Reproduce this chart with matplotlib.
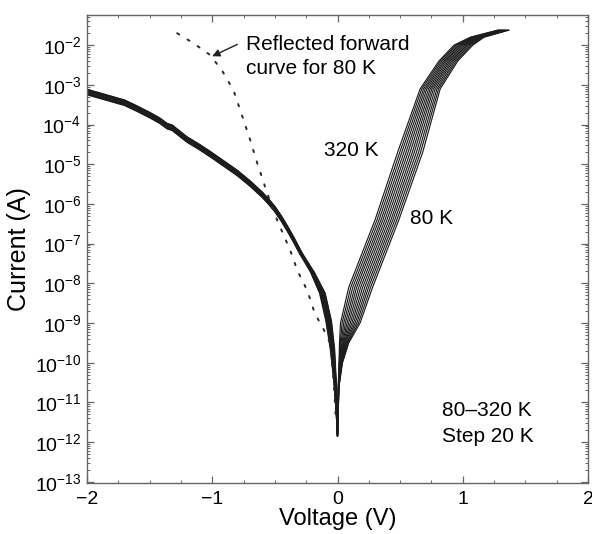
import numpy as np
import matplotlib
matplotlib.use("Agg")
import matplotlib.pyplot as plt
from matplotlib.ticker import FixedLocator, LogLocator, MultipleLocator, NullFormatter

plt.rcParams['font.family'] = ['Liberation Sans', 'DejaVu Sans']
plt.rcParams['mathtext.fontset'] = 'custom'
plt.rcParams['mathtext.rm'] = 'Liberation Sans'
plt.rcParams['mathtext.it'] = 'Liberation Sans:italic'
plt.rcParams['mathtext.bf'] = 'Liberation Sans:bold'

# ---------------- data ----------------
temperatures = [80, 100, 120, 140, 160, 180, 200, 220, 240, 260, 280, 300, 320]

# reverse-bias branch, far from zero (all temperatures nearly overlap)
rev_V = [-2.0, -1.9, -1.8, -1.7, -1.6, -1.5, -1.42, -1.36, -1.32, -1.2, -1.1, -1.0,
         -0.9, -0.8, -0.7, -0.6, -0.55, -0.5, -0.45, -0.4, -0.35, -0.3]
rev_logI = [-3.18, -3.27, -3.36, -3.45, -3.60, -3.76, -3.90, -4.04, -4.08, -4.38, -4.57, -4.78,
            -5.00, -5.22, -5.48, -5.77, -5.94, -6.13, -6.36, -6.62, -6.90, -7.20]
rev_offsets = [0.05, -0.06, 0.03, -0.04, 0.06, -0.02, 0.0, 0.04, -0.05, 0.02, -0.03, 0.07, -0.07]

# reverse-bias branch close to zero: voltage of each curve at these log10(current) levels
rev_nz_levels = [-7.72, -8.25, -8.95, -9.65, -10.45, -11.2]
rev_nz_V = [
    [-0.185, -0.098, -0.048, -0.023, -0.010, -0.004],
    [-0.188, -0.101, -0.051, -0.026, -0.012, -0.005],
    [-0.190, -0.105, -0.055, -0.028, -0.013, -0.005],
    [-0.193, -0.109, -0.059, -0.031, -0.015, -0.006],
    [-0.195, -0.113, -0.063, -0.034, -0.017, -0.007],
    [-0.198, -0.116, -0.066, -0.037, -0.018, -0.007],
    [-0.200, -0.120, -0.070, -0.040, -0.020, -0.008],
    [-0.203, -0.124, -0.074, -0.043, -0.022, -0.009],
    [-0.205, -0.128, -0.078, -0.046, -0.023, -0.009],
    [-0.208, -0.131, -0.081, -0.049, -0.025, -0.010],
    [-0.210, -0.135, -0.085, -0.052, -0.027, -0.011],
    [-0.213, -0.139, -0.089, -0.055, -0.028, -0.011],
    [-0.215, -0.143, -0.093, -0.058, -0.030, -0.012],
]

# minimum at zero bias
zero_logI = -11.85

# forward-bias branch: voltage at which each curve reaches the given log10(current)
fwd_levels = [-10.6, -10.0, -9.5, -9.0, -8.1, -6.4, -4.7, -3.1, -2.4, -2.0, -1.8, -1.62]
fwd_V = [
    [0.012, 0.040, 0.090, 0.180, 0.280, 0.490, 0.680, 0.820, 0.960, 1.080, 1.170, 1.370],  # 80 K
    [0.011, 0.037, 0.084, 0.167, 0.264, 0.474, 0.663, 0.807, 0.948, 1.068, 1.161, 1.362],  # 100 K
    [0.011, 0.035, 0.078, 0.154, 0.248, 0.458, 0.647, 0.794, 0.935, 1.055, 1.152, 1.355],  # 120 K
    [0.010, 0.033, 0.071, 0.141, 0.233, 0.442, 0.630, 0.780, 0.922, 1.042, 1.143, 1.348],  # 140 K
    [0.010, 0.031, 0.065, 0.128, 0.217, 0.427, 0.613, 0.766, 0.910, 1.030, 1.133, 1.340],  # 160 K
    [0.009, 0.028, 0.059, 0.115, 0.201, 0.411, 0.597, 0.753, 0.897, 1.018, 1.124, 1.333],  # 180 K
    [0.009, 0.026, 0.053, 0.102, 0.185, 0.395, 0.580, 0.740, 0.885, 1.005, 1.115, 1.325],  # 200 K
    [0.008, 0.024, 0.047, 0.089, 0.169, 0.379, 0.563, 0.727, 0.872, 0.992, 1.106, 1.318],  # 220 K
    [0.008, 0.021, 0.041, 0.076, 0.153, 0.363, 0.547, 0.713, 0.860, 0.980, 1.097, 1.310],  # 240 K
    [0.007, 0.019, 0.035, 0.063, 0.138, 0.348, 0.530, 0.700, 0.848, 0.968, 1.088, 1.303],  # 260 K
    [0.007, 0.017, 0.028, 0.050, 0.122, 0.332, 0.513, 0.687, 0.835, 0.955, 1.078, 1.295],  # 280 K
    [0.006, 0.014, 0.022, 0.037, 0.106, 0.316, 0.497, 0.673, 0.822, 0.943, 1.069, 1.288],  # 300 K
    [0.006, 0.012, 0.016, 0.024, 0.090, 0.300, 0.480, 0.660, 0.810, 0.930, 1.060, 1.280],  # 320 K
]

# reflected forward curve for 80 K (dotted)
refl_V = [-1.28, -1.15, -1.016, -0.92, -0.83, -0.776, -0.696, -0.64, -0.56, -0.48, -0.376,
          -0.32, -0.24, -0.18, -0.12, -0.06, -0.03, -0.015]
refl_logI = [-1.70, -1.95, -2.25, -2.65, -3.14, -3.64, -4.40, -4.98, -5.74, -6.42, -7.18,
             -7.68, -8.19, -8.77, -9.10, -9.50, -10.50, -11.30]

yticks_exp = list(range(-13, -1))
xticks = [-2, -1, 0, 1, 2]
xtick_labels = ['\u22122', '\u22121', '0', '1', '2']

# ---------------- figure ----------------
W, H = 592, 534
fig = plt.figure(figsize=(W / 100, H / 100), dpi=100)
ax = fig.add_axes([87 / W, 1 - 483 / H, (588 - 87) / W, (483 - 15) / H])

line_color = '#1c1c1c'
for k, T in enumerate(temperatures):
    V = np.concatenate([rev_V, rev_nz_V[k], [0.0], fwd_V[k]])
    L = np.concatenate([np.array(rev_logI) + rev_offsets[k], rev_nz_levels,
                        [zero_logI], fwd_levels])
    ax.plot(V, 10.0 ** L, color=line_color, lw=0.85, solid_joinstyle='round')

ax.plot(refl_V, 10.0 ** np.array(refl_logI), color='#2a2a2a', lw=1.4,
        linestyle=(0, (1.2, 5.0)), dash_capstyle='round')

ax.set_yscale('log')
ax.set_xlim(-2, 2)
ax.set_ylim(10 ** -13.03, 10 ** -1.24)

ax.yaxis.set_major_locator(FixedLocator([10.0 ** e for e in yticks_exp]))
ax.set_yticklabels([r'$10^{%d}$' % e for e in yticks_exp])
ax.yaxis.set_minor_locator(LogLocator(base=10, subs=np.arange(2, 10), numticks=40))
ax.yaxis.set_minor_formatter(NullFormatter())

ax.set_xticks(xticks)
ax.set_xticklabels(xtick_labels)
ax.xaxis.set_minor_locator(MultipleLocator(0.25))

frame_color = '#666666'
for s in ax.spines.values():
    s.set_color(frame_color)
    s.set_linewidth(1.0)
ax.tick_params(which='both', direction='in', top=True, right=True, color=frame_color)
ax.tick_params(which='major', length=5, width=0.9, labelsize=14, pad=4)
ax.tick_params(which='minor', length=2.5, width=0.7)
ax.tick_params(axis='x', which='major', pad=6)

ax.set_xlabel('Voltage (V)', fontsize=17, labelpad=0)
ax.set_ylabel('Current (A)', fontsize=18, labelpad=3)

# annotations
def fx(px):
    return px / W

def fy(py):
    return 1 - py / H

fs = 15
fig.text(fx(246), fy(45), 'Reflected forward', fontsize=fs, va='center', ha='left')
fig.text(fx(246), fy(68), 'curve for 80 K', fontsize=fs, va='center', ha='left')
fig.text(fx(324), fy(150), '320 K', fontsize=fs, va='center', ha='left')
fig.text(fx(410), fy(218), '80 K', fontsize=fs, va='center', ha='left')
fig.text(fx(442), fy(410), '80\u2013320 K', fontsize=fs, va='center', ha='left')
fig.text(fx(442), fy(436), 'Step 20 K', fontsize=fs, va='center', ha='left')

ax.annotate('', xy=(-1.0, 10 ** -2.28), xytext=(-0.80, 10 ** -1.98),
            arrowprops=dict(arrowstyle='-|>', color='#222222', lw=1.0,
                            mutation_scale=11, shrinkA=0, shrinkB=0))

fig.savefig('out.png', dpi=100)
